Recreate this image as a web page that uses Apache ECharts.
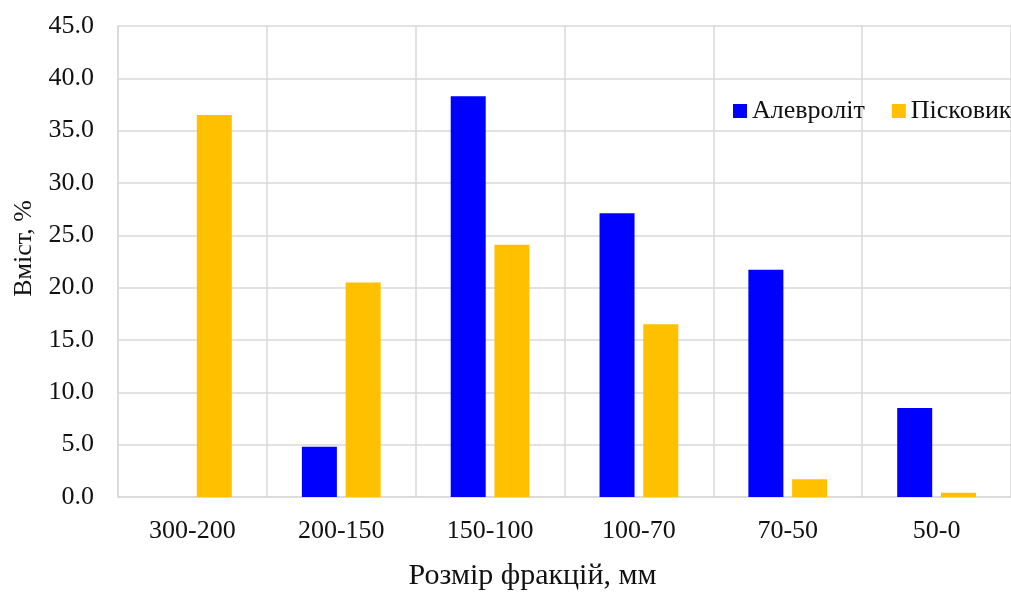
<!DOCTYPE html>
<html>
<head>
<meta charset="utf-8">
<script src="https://cdn.jsdelivr.net/npm/echarts@6/dist/echarts.min.js"></script>
<style>
html,body{margin:0;padding:0;background:#fff;overflow:hidden;}
#c{width:1011px;height:596px;}
</style>
</head>
<body>
<div id="c"></div>
<script>
const categories = ['300-200', '200-150', '150-100', '100-70', '70-50', '50-0'];
const seriesNames = ['Алевроліт', 'Пісковик'];
const alevrolit = [null, 4.8, 38.3, 27.1, 21.7, 8.5];
const piskovyk = [36.5, 20.5, 24.1, 16.5, 1.7, 0.4];
const yTicks = { min: 0, max: 45, interval: 5 };
const xName = 'Розмір фракцій, мм';
const yName = 'Вміст, %';

const font = 'Liberation Serif';
const textColor = '#111111';
const gridColor = '#d9d9d9';
const fs = 26;

const chart = echarts.init(document.getElementById('c'), null, { renderer: 'canvas' });
chart.setOption({
  animation: false,
  backgroundColor: '#ffffff',
  textStyle: { fontFamily: font },
  grid: { left: 118, width: 900, top: 26, bottom: 98, containLabel: false },
  legend: {
    left: 728, top: 93, width: 600, orient: 'horizontal',
    itemWidth: 14, itemHeight: 14, itemGap: 27,
    icon: 'rect',
    textStyle: { fontFamily: font, fontSize: fs, color: textColor, padding: [0, 0, 0, 0] },
    data: seriesNames
  },
  xAxis: {
    type: 'category',
    data: categories,
    name: xName,
    nameLocation: 'middle',
    nameGap: 64,
    nameTextStyle: { fontFamily: font, fontSize: 30, color: textColor, padding: [0, 64, 0, 0] },
    axisLine: { show: true, lineStyle: { color: gridColor, width: 1.5 } },
    axisTick: { show: false },
    axisLabel: { fontFamily: font, fontSize: fs, color: textColor, margin: 21 },
    splitLine: { show: true, lineStyle: { color: gridColor, width: 1.5 } }
  },
  yAxis: {
    type: 'value',
    min: yTicks.min, max: yTicks.max, interval: yTicks.interval,
    name: yName,
    nameLocation: 'middle',
    nameGap: 74,
    nameRotate: 90,
    nameTextStyle: { fontFamily: font, fontSize: fs, color: textColor, padding: [0, 0, 0, 26] },
    axisLine: { show: true, lineStyle: { color: gridColor, width: 1.5 } },
    axisTick: { show: false },
    axisLabel: { fontFamily: font, fontSize: fs, color: textColor, margin: 24,
      formatter: v => v.toFixed(1) },
    splitLine: { show: true, lineStyle: { color: gridColor, width: 1.5 } }
  },
  series: [
    { name: seriesNames[0], type: 'bar', data: alevrolit, barWidth: 35, barGap: '25%',
      itemStyle: { color: '#0000ff' } },
    { name: seriesNames[1], type: 'bar', data: piskovyk, barWidth: 35, barGap: '25%',
      itemStyle: { color: '#ffc000' } }
  ]
});
</script>
</body>
</html>
